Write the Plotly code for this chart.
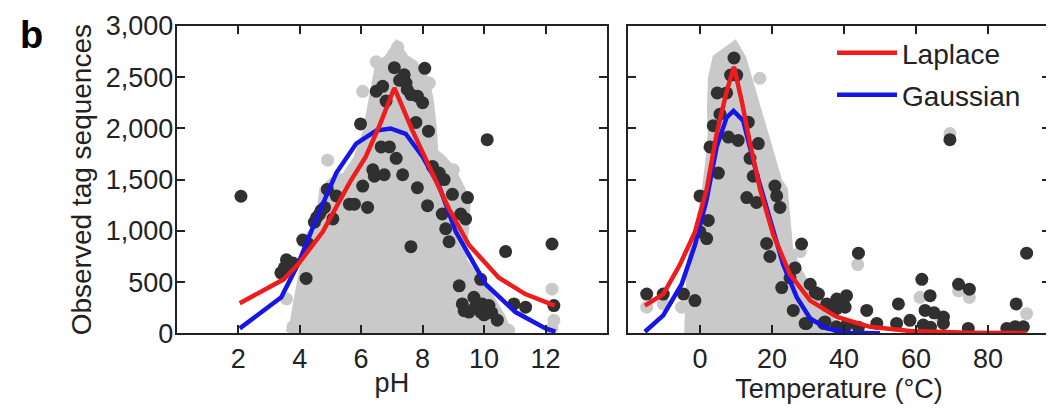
import plotly.graph_objects as go

# ---- pH panel ----
ph_grey_x = [3.70, 3.85, 3.95, 4.05, 4.20, 4.45, 4.70, 4.80, 5.10, 5.50, 5.90, 6.20, 6.35, 6.45, 6.60,
             6.90, 7.15, 7.40, 7.70, 8.05, 8.20, 8.30, 8.35, 8.60, 8.90, 9.20, 9.40, 9.35, 9.25,
             9.30, 9.55, 9.90, 10.20, 10.55, 10.75]
ph_grey_y = [0, 120, 300, 480, 700, 900, 1150, 1400, 1480, 1520, 1700, 1950, 2200, 2420, 2600,
             2680, 2790, 2680, 2620, 2480, 2280, 2000, 1760, 1700, 1600, 1420, 1300, 1000, 860,
             700, 600, 430, 330, 150, 0]
ph_grey_pts_x = [4.91, 6.05, 6.49, 7.19, 8.22, 9.00, 3.57, 3.78, 12.21, 12.27, 12.21, 10.80, 5.30, 4.40]
ph_grey_pts_y = [1690, 2362, 2650, 2794, 2443, 1596, 335, 63, 431, 127, 48, 30, 1500, 950]

ph_dark_x = [2.09, 3.39, 3.57, 3.78, 3.50, 4.10, 4.27, 4.21, 4.48, 4.65, 4.81, 4.90, 4.55, 4.70,
             5.08, 5.19, 5.62, 5.78, 6.21, 6.05, 6.38, 6.43, 6.75, 5.98, 6.49, 6.70, 6.81, 7.08,
             7.40, 7.46, 7.62, 7.83, 8.00, 8.07, 7.25, 7.50, 7.78, 8.19, 6.65, 6.92, 7.14, 7.35,
             7.83, 8.32, 8.54, 8.70, 8.97, 9.46, 8.16, 8.64, 9.24, 9.40, 8.75, 8.86, 7.62, 10.10,
             9.19, 9.89, 9.29, 9.67, 9.94, 10.16, 9.51, 9.89, 10.43, 10.97, 11.35, 10.70, 12.21,
             12.27, 9.70, 9.35, 10.00, 10.25]
ph_dark_y = [1338, 590, 718, 686, 640, 910, 877, 536, 1085, 1165, 1229, 1405, 1130, 1200,
             1117, 1341, 1261, 1261, 1229, 1437, 1596, 1533, 1548, 2044, 2363, 2411, 2267, 2593,
             2523, 2443, 2331, 2315, 2251, 2587, 2470, 2380, 2059, 1973, 1820, 1820, 1708, 1548,
             1421, 1629, 1565, 1501, 1357, 1325, 1246, 1165, 1165, 1117, 1021, 894, 846, 1890,
             463, 527, 287, 351, 287, 271, 207, 207, 128, 287, 255, 798, 872,
             271, 250, 220, 180, 200]

ph_fit_x = [2.05, 3.48, 3.94, 4.75, 5.62, 6.15, 6.60, 7.08, 7.67, 8.21, 8.86, 9.51, 10.48, 11.34, 12.30]
ph_laplace = [293, 527, 671, 990, 1469, 1724, 2030, 2395, 1979, 1629, 1213, 862, 542, 383, 271]
ph_gauss_x = [2.05, 3.40, 3.94, 4.54, 5.19, 5.84, 6.49, 6.96, 7.45, 8.00, 8.54, 9.08, 10.05, 11.02, 12.00, 12.32]
ph_gauss = [48, 351, 671, 1117, 1564, 1852, 1979, 2000, 1948, 1724, 1437, 990, 479, 207, 48, 16]

# ---- temperature panel ----
t_grey_x = [-3.0, -2.9, -2.3, -0.1, 1.7, 3.0, 3.5, 3.3, 3.6, 4.8, 7.5, 9.5, 11.5, 12.5, 14.0, 15.5,
            17.0, 18.5, 20.0, 21.5, 23.0, 23.6, 24.5, 26.5, 28.5, 30.5, 33.0, 35.0, 37.0, 38.5]
t_grey_y = [0, 380, 700, 1020, 1340, 1720, 1950, 2200, 2490, 2680, 2750, 2800, 2680, 2560, 2300, 2150,
            2000, 1800, 1600, 1480, 1400, 1050, 820, 640, 480, 380, 260, 160, 80, 0]
t_grey_pts_x = [16.6, -14.8, -10.2, -5.1, 43.8, 71.8, 74.8, 61.1, 90.7, 66.7, 27.8, 69.4]
t_grey_pts_y = [2490, 255, 287, 255, 671, 415, 351, 351, 192, 159, 798, 1950]

t_dark_x = [9.44, 8.5, 10.2, 4.8, 7.4, 5.56, 3.7, 7.87, 10.6, 13.4, 16.2, 2.78, 13.9, 5.1, 14.8, 0.0,
            13.0, 15.7, 20.8, 21.3, 22.2, 2.3, 0.0, 1.86, 18.5, 28.2, 19.4, 44.0, 22.7, 26.4, 25.0,
            30.6, 32.9, 35.2, 40.7, 39.8, 37.9, 46.3, 55.1, 61.6, 63.9, 62.5, 71.8, 74.8, 67.6, 87.8,
            90.7, 69.4, -14.8, -10.2, -4.6, -1.4, 29.6, 49.1, 54.6, 58.3, 62.0, 67.6, 74.5, 85.2, 87.5,
            89.8, 37.9, 34.3, 40.7, 25.9, 29.2, 34.7, 38.0, 40.3, 35.2, 32.0, 65.0, 64.0, 44.0]
t_dark_y = [2688, 2521, 2521, 2347, 2347, 2139, 2027, 1916, 1883, 2061, 1852, 1820, 1708, 1564, 1533, 1341,
            1325, 1277, 1437, 1341, 1229, 1102, 990, 925, 877, 872, 750, 782, 446, 638, 542,
            479, 383, 287, 367, 319, 240, 223, 287, 527, 367, 223, 479, 431, 159, 287,
            782, 1890, 383, 383, 383, 319, 96, 96, 96, 127, 80, 96, 48, 48, 64,
            64, 64, 96, 80, 223, 96, 111, 335, 255, 271, 399, 200, 60, 60]

t_lap_x = [-15.3, -10.2, -5.56, -1.39, 1.86, 4.63, 7.41, 9.44, 11.6, 13.9, 16.7, 20.4, 25.0, 30.6, 38.0, 47.2, 58.3, 75.0, 90.7]
t_laplace = [271, 383, 671, 990, 1405, 1948, 2362, 2602, 2267, 1852, 1405, 958, 575, 319, 159, 63, 22, 6, 2]
t_gau_x = [-15.3, -10.2, -5.1, -1.4, 1.86, 4.63, 7.41, 9.3, 12.0, 15.7, 19.4, 23.1, 26.9, 30.6, 35.2, 41.7, 50.0]
t_gauss = [15, 175, 479, 862, 1309, 1820, 2108, 2171, 2076, 1564, 1117, 671, 351, 144, 48, 5, 0]

DARK = "#303030"
GREY = "#c9c9c9"
RED = "#ee1c1c"
BLUE = "#1616e8"
INK = "#222222"
FONT = "Liberation Sans, Arial, sans-serif"

# the page body adds an 8px margin, so the figure is drawn 8px smaller
W, H = 1046, 403

fig = go.Figure()


def add_panel(xa, ya, gx, gy, px_, py_, dx, dy, lx, ly, gxl, gyl, show):
    fig.add_trace(go.Scatter(x=gx, y=gy, mode="lines", fill="toself", fillcolor=GREY,
                             line=dict(color=GREY, width=10), xaxis=xa, yaxis=ya,
                             showlegend=False, hoverinfo="skip"))
    fig.add_trace(go.Scatter(x=px_, y=py_, mode="markers", xaxis=xa, yaxis=ya,
                             marker=dict(size=13, color=GREY, line=dict(width=0)),
                             showlegend=False))
    fig.add_trace(go.Scatter(x=dx, y=dy, mode="markers", xaxis=xa, yaxis=ya,
                             marker=dict(size=13, color=DARK, line=dict(width=0)),
                             showlegend=False))
    fig.add_trace(go.Scatter(x=gxl, y=gyl, mode="lines", xaxis=xa, yaxis=ya, name="Gaussian",
                             line=dict(color=BLUE, width=4.5), showlegend=show, legend="legend2"))
    fig.add_trace(go.Scatter(x=lx, y=ly, mode="lines", xaxis=xa, yaxis=ya, name="Laplace",
                             line=dict(color=RED, width=4.5), showlegend=show, legend="legend"))


add_panel("x", "y", ph_grey_x, ph_grey_y, ph_grey_pts_x, ph_grey_pts_y, ph_dark_x, ph_dark_y,
          ph_fit_x, ph_laplace, ph_gauss_x, ph_gauss, False)
add_panel("x2", "y2", t_grey_x, t_grey_y, t_grey_pts_x, t_grey_pts_y, t_dark_x, t_dark_y,
          t_lap_x, t_laplace, t_gau_x, t_gauss, True)

axis_common = dict(showline=True, mirror="ticks", linecolor=INK, linewidth=2, ticks="inside",
                   ticklen=8, tickwidth=2, tickcolor=INK, showgrid=False, zeroline=False,
                   ticklabeloverflow="allow",
                   tickfont=dict(family=FONT, size=27, color=INK))

y_ticks = [0, 500, 1000, 1500, 2000, 2500, 3000]
y_dom = [0.1928, 0.9553]
ph_ticks = [2, 4, 6, 8, 10, 12]
t_ticks = [0, 20, 40, 60, 80]

fig.update_layout(
    width=W, height=H,
    margin=dict(l=0, r=0, t=0, b=0, autoexpand=False),
    paper_bgcolor="white", plot_bgcolor="white",
    font=dict(family=FONT, size=27, color=INK),
    xaxis=dict(domain=[0.1613, 0.5727], range=[0, 14], tickvals=ph_ticks,
               title=dict(text="pH", font=dict(size=27), standoff=0), **axis_common),
    yaxis=dict(domain=y_dom, range=[0, 3000], tickvals=y_ticks, tickformat=",d",
               ticklabelstandoff=-4,
               title=dict(text="Observed tag sequences", font=dict(size=28), standoff=6),
               **axis_common),
    xaxis2=dict(domain=[0.5927, 0.9962], range=[-20, 97.2], tickvals=t_ticks, anchor="y2",
                title=dict(text="Temperature (°C)", font=dict(size=27), standoff=0), **axis_common),
    yaxis2=dict(domain=y_dom, range=[0, 3000], tickvals=y_ticks,
                showticklabels=False, anchor="x2", **axis_common),
    legend=dict(x=0.7878, y=0.888, xanchor="left", yanchor="middle", bgcolor="rgba(0,0,0,0)",
                font=dict(family=FONT, size=28, color=INK), itemwidth=60),
    legend2=dict(x=0.7878, y=0.784, xanchor="left", yanchor="middle", bgcolor="rgba(0,0,0,0)",
                 font=dict(family=FONT, size=28, color=INK), itemwidth=60),
    annotations=[dict(text="<b>b</b>", x=0.0096, y=0.933, xref="paper", yref="paper",
                      xanchor="left", yanchor="middle", showarrow=False,
                      font=dict(family=FONT, size=38, color="black"))],
)

fig.write_html("out.html")
